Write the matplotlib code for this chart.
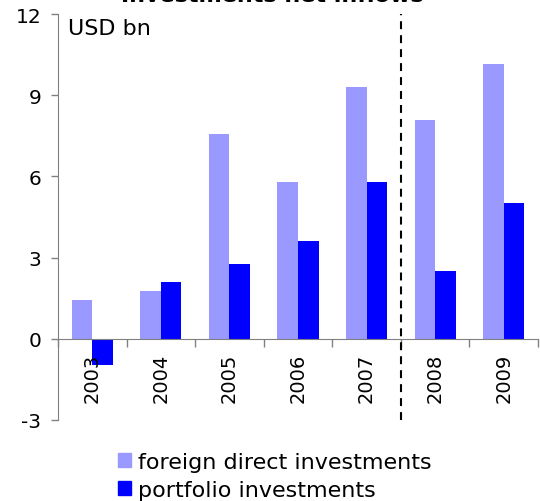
import matplotlib
matplotlib.use("Agg")
import matplotlib.pyplot as plt
import numpy as np
from matplotlib.patches import Patch

# Net inflows by year, USD bn
years = ["2003", "2004", "2005", "2006", "2007", "2008", "2009"]
fdi = [1.45, 1.75, 7.55, 5.78, 9.3, 8.1, 10.15]
portfolio = [-0.95, 2.1, 2.75, 3.62, 5.78, 2.52, 5.0]

fdi_color = "#9999FF"
port_color = "#0000FF"
axis_color = "#808080"

plt.rcParams["font.family"] = "DejaVu Sans"

fig = plt.figure(figsize=(5.4, 5.02), dpi=100)
ax = fig.add_axes([58 / 540, 1 - 421 / 502, (538 - 58) / 540, (421 - 15) / 502])

x = np.arange(len(years))
w = 0.3
ax.bar(x - w / 2, fdi, width=w, color=fdi_color, label="foreign direct investments")
ax.bar(x + w / 2, portfolio, width=w, color=port_color, label="portfolio investments")

ax.set_xlim(-0.5, len(years) - 0.5)
ax.set_ylim(-3, 12)
ax.set_yticks([-3, 0, 3, 6, 9, 12])
ax.set_yticklabels(["-3", "0", "3", "6", "9", "12"])
ax.tick_params(axis="y", direction="out", length=5, width=1, color=axis_color,
               labelsize=14.5, pad=7)

# category boundaries as ticks on the zero line, year labels inside the plot
ax.spines["bottom"].set_position(("data", 0))
ax.set_xticks(np.arange(len(years) + 1) - 0.5)
ax.set_xticklabels([])
ax.tick_params(axis="x", direction="out", length=6, width=1, color=axis_color)
for xi, yr in zip(x, years):
    ax.text(xi, -0.5, yr, rotation=90, ha="center", va="top", fontsize=14)

ax.spines["top"].set_visible(False)
ax.spines["right"].set_visible(False)
ax.spines["left"].set_color(axis_color)
ax.spines["bottom"].set_color(axis_color)

# split between actual and later years
ax.axvline(4.5, color="black", linestyle=(0, (3.8, 2.9)), linewidth=1.5)

ax.text(0.02, 0.99, "USD bn", transform=ax.transAxes, ha="left", va="top", fontsize=16)

fig.text(0.505, 1 - 1.5 / 502, "Investments net inflows", ha="center", va="baseline",
         fontsize=16, fontweight="bold")

handles = [Patch(color=fdi_color), Patch(color=port_color)]
fig.legend(handles, ["foreign direct investments", "portfolio investments"],
           loc="upper left", bbox_to_anchor=(118 / 540, 1 - 453 / 502), frameon=False,
           fontsize=16, handlelength=0.6, handleheight=0.6, handletextpad=0.3,
           labelspacing=0.35, borderpad=0, borderaxespad=0)

fig.savefig("out.png", dpi=100)
